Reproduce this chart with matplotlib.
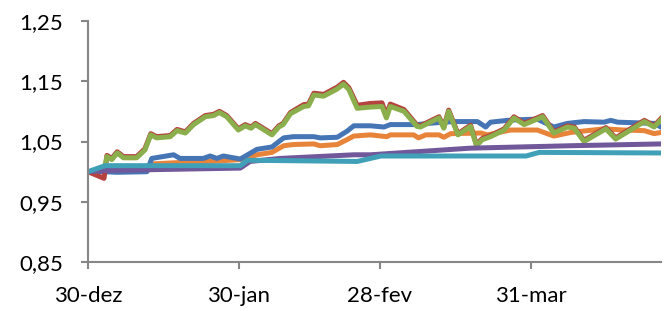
import matplotlib
matplotlib.use("Agg")
import matplotlib.pyplot as plt
from matplotlib.ticker import FixedLocator, FuncFormatter

# x in days since 30-dez
tick_days = [0, 31, 60, 91]
tick_labels = ["30-dez", "30-jan", "28-fev", "31-mar"]
y_ticks = [0.85, 0.95, 1.05, 1.15, 1.25]

green_days = [0, 3.3, 3.9, 4.9, 6, 7.3, 10, 11.7, 12.9, 14.1,
              16.9, 18.3, 20, 21.7, 24.1, 25.8, 27, 28.5, 30.9, 32.3,
              33.5, 34.4, 37.8, 39.2, 40.1, 41.6, 44.3, 45.3, 46.4, 48.4,
              51.2, 52.5, 53.6, 55.3, 58, 60.4, 61.3, 62.1, 64.9, 67.6,
              68.3, 72.1, 73.1, 74.1, 76, 78.6, 79.8, 81, 82.7, 85.5,
              87.5, 89.6, 93.4, 95.7, 98.5, 99.9, 101.9, 106.4, 108.4, 114.3,
              116.3, 117.7]
green_vals = [1.000, 1.003, 1.025, 1.020, 1.031, 1.023, 1.023, 1.036, 1.061, 1.056,
              1.058, 1.068, 1.064, 1.078, 1.091, 1.093, 1.098, 1.091, 1.069, 1.076,
              1.072, 1.078, 1.061, 1.074, 1.078, 1.096, 1.108, 1.109, 1.127, 1.125,
              1.137, 1.145, 1.136, 1.105, 1.107, 1.108, 1.089, 1.108, 1.100, 1.075,
              1.074, 1.089, 1.072, 1.100, 1.061, 1.075, 1.043, 1.053, 1.058, 1.069,
              1.089, 1.078, 1.091, 1.064, 1.074, 1.072, 1.050, 1.071, 1.054, 1.083,
              1.074, 1.086]
red_vals = [1.000, 0.989, 1.027, 1.022, 1.033, 1.025, 1.025, 1.038, 1.063, 1.058,
            1.060, 1.070, 1.066, 1.080, 1.093, 1.095, 1.100, 1.093, 1.071, 1.078,
            1.074, 1.080, 1.063, 1.076, 1.080, 1.098, 1.111, 1.112, 1.130, 1.128,
            1.140, 1.148, 1.139, 1.110, 1.113, 1.114, 1.094, 1.112, 1.103, 1.077,
            1.076, 1.091, 1.074, 1.102, 1.063, 1.077, 1.045, 1.055, 1.060, 1.071,
            1.091, 1.080, 1.093, 1.066, 1.076, 1.074, 1.052, 1.073, 1.056, 1.085,
            1.076, 1.088]

blue_days = [0, 3.5, 5.9, 12.1, 13.1, 17.6, 18.9, 23.7, 25.1, 26.5,
             27.8, 31.3, 34.7, 37.8, 40.2, 42.2, 46.4, 47.7, 51.2, 53.2,
             54.6, 58, 60.8, 62.1, 67.6, 70, 73.1, 75.2, 80, 81.7,
             82.7, 86.2, 88.2, 92.3, 95.7, 98.5, 101.9, 106, 107.4, 108.8,
             116.3, 117.7]
blue_vals = [1.000, 1.000, 0.999, 1.000, 1.022, 1.028, 1.022, 1.022, 1.026, 1.022,
             1.026, 1.021, 1.037, 1.041, 1.056, 1.058, 1.058, 1.056, 1.057, 1.067,
             1.076, 1.076, 1.074, 1.078, 1.078, 1.080, 1.082, 1.083, 1.083, 1.074,
             1.082, 1.085, 1.086, 1.087, 1.074, 1.080, 1.083, 1.082, 1.085, 1.082,
             1.080, 1.074]

orange_days = [0, 12.1, 13.5, 18.3, 25.1, 31.3, 34.7, 37.8, 40.2, 42.2,
               46.4, 47.7, 51.2, 53.2, 54.6, 58, 61.4, 62.1, 66.9, 67.9,
               69.4, 72.1, 73.1, 74.5, 80.7, 82.1, 86.8, 92.3, 95.7, 99.2,
               106, 110.1, 114.3, 116.3, 117.7]
orange_vals = [1.000, 1.001, 1.013, 1.015, 1.017, 1.020, 1.028, 1.032, 1.043, 1.045,
               1.046, 1.043, 1.045, 1.053, 1.059, 1.061, 1.058, 1.061, 1.061, 1.056,
               1.061, 1.061, 1.057, 1.063, 1.064, 1.061, 1.069, 1.069, 1.059, 1.065,
               1.071, 1.069, 1.068, 1.063, 1.065]

purple_days = [0, 3.7, 31.3, 33.3, 39.5, 54.6, 58, 78.6, 99.2, 117.7]
purple_vals = [1.000, 1.002, 1.006, 1.017, 1.022, 1.028, 1.028, 1.039, 1.043, 1.046]

teal_days = [0, 3.5, 31.3, 32.8, 55.3, 60.2, 90, 92.7, 117.7]
teal_vals = [1.000, 1.010, 1.010, 1.019, 1.017, 1.026, 1.026, 1.032, 1.031]

plt.rcParams['font.family'] = ['Lato', 'DejaVu Sans']

fig = plt.figure(figsize=(6.71, 3.11), dpi=100)
ax = fig.add_axes([0.1311, 0.1566, 0.8539, 0.7768])

lw = 3.6
ax.plot(orange_days, orange_vals, color="#E8843A", lw=lw, solid_joinstyle="round")
ax.plot(blue_days, blue_vals, color="#4675B5", lw=lw, solid_joinstyle="round")
ax.plot(green_days, red_vals, color="#B5423F", lw=lw, solid_joinstyle="round")
ax.plot(green_days, green_vals, color="#8BAF4C", lw=lw, solid_joinstyle="round")
ax.plot(purple_days, purple_vals, color="#70589A", lw=lw, solid_joinstyle="round")
ax.plot(teal_days, teal_vals, color="#40A0B8", lw=lw, solid_joinstyle="round")

ax.set_xlim(0, 117.7)
ax.set_ylim(0.85, 1.25)
ax.xaxis.set_major_locator(FixedLocator(tick_days))
ax.set_xticklabels(tick_labels)
ax.set_yticks(y_ticks)
ax.yaxis.set_major_formatter(FuncFormatter(lambda v, p: f"{v:.2f}".replace(".", ",")))

for s in ["top", "right"]:
    ax.spines[s].set_visible(False)
for s in ["left", "bottom"]:
    ax.spines[s].set_color("#868686")
    ax.spines[s].set_linewidth(1.5)
ax.tick_params(axis="both", colors="#868686", width=1.5, length=5, labelsize=16, labelcolor="black")
ax.tick_params(axis="y", pad=13)
ax.tick_params(axis="x", pad=12)

plt.savefig("out.png", dpi=100)
